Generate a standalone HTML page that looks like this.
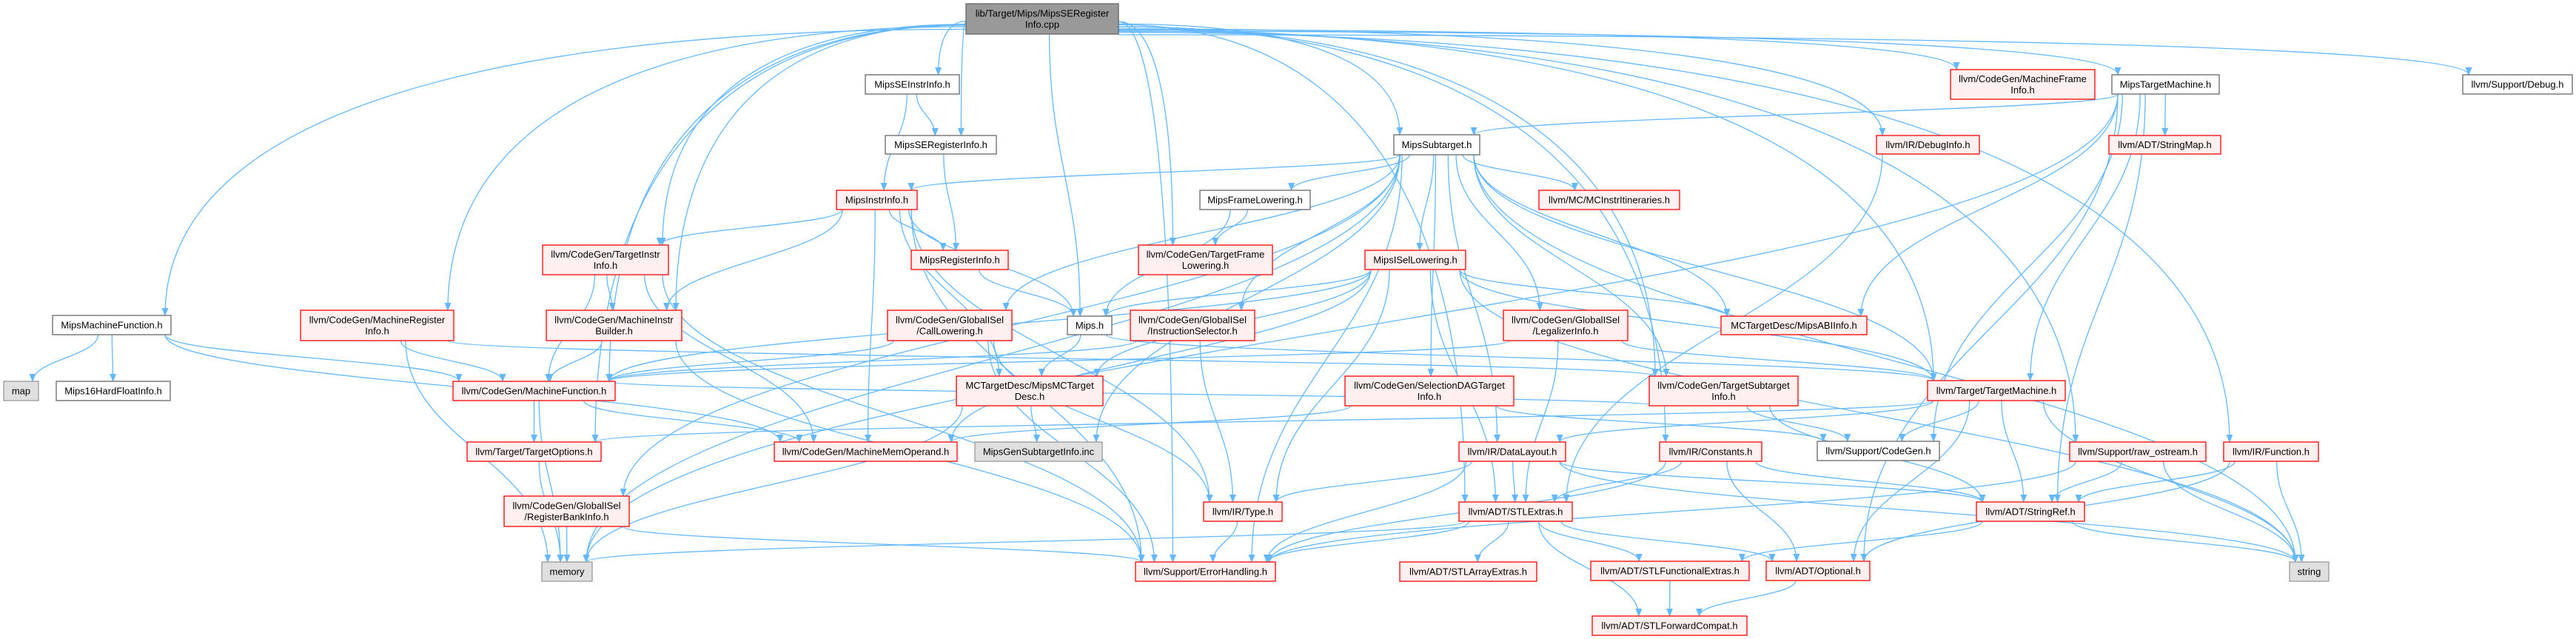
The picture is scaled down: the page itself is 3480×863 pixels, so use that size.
<!DOCTYPE html>
<html><head><meta charset="utf-8"><style>
html,body{margin:0;padding:0;background:#fff;}
svg{display:block;}
text{font-family:"Liberation Sans",Arial,sans-serif;font-size:13px;fill:#000;}
</style></head><body>
<svg id="g" width="3480" height="863" viewBox="0 0 3480 863" xmlns="http://www.w3.org/2000/svg">
<defs>
<marker id="a" markerWidth="11" markerHeight="9" refX="10" refY="4.5" orient="auto" markerUnits="userSpaceOnUse">
<path d="M0,0 L11,4.5 L0,9 z" fill="#63b8ff"/>
</marker>
</defs>
<g id="edges" fill="none" stroke="#63b8ff" stroke-width="1.3"></g>
<g id="nodes"></g>
</svg>
<script>
var N={
R:[["lib/Target/Mips/MipsSERegister","Info.cpp"],1305,5,1511,46,"root"],
SEII:[["MipsSEInstrInfo.h"],1169,101,1296,127,"w"],
SERI:[["MipsSERegisterInfo.h"],1196,183,1346,208,"w"],
II:[["MipsInstrInfo.h"],1130,257,1239,283,"r"],
FL:[["MipsFrameLowering.h"],1621,257,1770,283,"w"],
RI:[["MipsRegisterInfo.h"],1231,338,1362,364,"r"],
TFL:[["llvm/CodeGen/TargetFrame","Lowering.h"],1538,331,1719,371,"r"],
CL:[["llvm/CodeGen/GlobalISel","/CallLowering.h"],1199,419,1367,460,"r"],
MH:[["Mips.h"],1442,427,1502,452,"w"],
IS:[["llvm/CodeGen/GlobalISel","/InstructionSelector.h"],1527,419,1695,460,"r"],
MCTD:[["MCTargetDesc/MipsMCTarget","Desc.h"],1292,508,1490,548,"r"],
MMO:[["llvm/CodeGen/MachineMemOperand.h"],1046,597,1293,623,"r"],
GSI:[["MipsGenSubtargetInfo.inc"],1317,597,1489,623,"g"],
TY:[["llvm/IR/Type.h"],1626,678,1732,704,"r"],
EH:[["llvm/Support/ErrorHandling.h"],1534,759,1723,785,"r"],
MMF:[["MipsMachineFunction.h"],71,426,231,452,"w"],
MAP:[["map"],5,515,52,541,"g"],
M16:[["Mips16HardFloatInfo.h"],76,515,230,541,"w"],
MRI:[["llvm/CodeGen/MachineRegister","Info.h"],406,419,613,460,"r"],
TII:[["llvm/CodeGen/TargetInstr","Info.h"],733,331,903,371,"r"],
MIB:[["llvm/CodeGen/MachineInstr","Builder.h"],738,419,921,460,"r"],
MF:[["llvm/CodeGen/MachineFunction.h"],612,515,831,541,"r"],
TO:[["llvm/Target/TargetOptions.h"],631,597,812,623,"r"],
RBI:[["llvm/CodeGen/GlobalISel","/RegisterBankInfo.h"],681,670,850,711,"r"],
MEM:[["memory"],732,759,800,785,"g"],
ST:[["MipsSubtarget.h"],1883,182,1999,209,"w"],
MCII:[["llvm/MC/MCInstrItineraries.h"],2079,257,2269,283,"r"],
ISL:[["MipsISelLowering.h"],1844,338,1980,364,"r"],
LI:[["llvm/CodeGen/GlobalISel","/LegalizerInfo.h"],2031,419,2199,460,"r"],
ABI:[["MCTargetDesc/MipsABIInfo.h"],2325,427,2522,452,"r"],
SDT:[["llvm/CodeGen/SelectionDAGTarget","Info.h"],1817,508,2045,548,"r"],
TSI:[["llvm/CodeGen/TargetSubtarget","Info.h"],2228,508,2429,548,"r"],
TM:[["llvm/Target/TargetMachine.h"],2604,514,2790,541,"r"],
DL:[["llvm/IR/DataLayout.h"],1971,597,2115,623,"r"],
CO:[["llvm/IR/Constants.h"],2242,597,2380,623,"r"],
CG:[["llvm/Support/CodeGen.h"],2455,596,2620,622,"w"],
SE:[["llvm/ADT/STLExtras.h"],1971,678,2124,704,"r"],
SAE:[["llvm/ADT/STLArrayExtras.h"],1891,759,2076,785,"r"],
SFE:[["llvm/ADT/STLFunctionalExtras.h"],2149,758,2363,784,"r"],
OP:[["llvm/ADT/Optional.h"],2386,758,2526,784,"r"],
SFC:[["llvm/ADT/STLForwardCompat.h"],2151,832,2360,858,"r"],
DI:[["llvm/IR/DebugInfo.h"],2535,183,2674,208,"r"],
MFI:[["llvm/CodeGen/MachineFrame","Info.h"],2635,94,2830,134,"r"],
MTM:[["MipsTargetMachine.h"],2853,101,2998,127,"w"],
DBG:[["llvm/Support/Debug.h"],3327,101,3475,127,"w"],
SM:[["llvm/ADT/StringMap.h"],2849,183,3000,208,"r"],
RO:[["llvm/Support/raw_ostream.h"],2796,597,2980,623,"r"],
FN:[["llvm/IR/Function.h"],3004,597,3132,623,"r"],
SR:[["llvm/ADT/StringRef.h"],2670,678,2816,704,"r"],
STR:[["string"],3093,759,3146,785,"g"]
};
var E=[
"R SEII","R SERI","R MH","R TFL","R ST","R MFI","R MTM","R DBG","R DI","R TM","R RO","R FN","R EH","R MF","R MIB","R MRI","R MMF","R TII","R TO","R TSI","R CO","R SE",
"SEII II","SEII SERI","SERI RI",
"II TII","II RI","II MH","II MIB","II MMO","II MCTD","II TY","II EH",
"RI MH","MH MCTD","MH TM",
"FL TFL","FL MH",
"ST II","ST FL","ST MCII","ST ISL","ST LI","ST ABI","ST SDT","ST TSI","ST CL","ST IS","ST RBI","ST DL","ST EH","ST TM","ST STR","ST GSI","ST MEM",
"ISL MH","ISL ABI","ISL MF","ISL MMO","ISL MCTD","ISL TY","ISL TM","ISL STR","ISL SE",
"TII MIB","TII MF","TII EH","TII MMO",
"MIB MF","MIB EH",
"MRI MF","MRI MEM","MRI TSI",
"MMF MAP","MMF M16","MMF MF","MMF MMO",
"MF TO","MF MEM","MF MMO",
"TO MEM","RBI MEM","RBI EH",
"CL MF","CL TY","CL EH","IS TY","IS MF",
"MCTD GSI","MCTD MEM",
"LI MF","LI SE","LI TM",
"SDT MMO","SDT CG",
"TSI CG","TSI SR","TSI MF",
"TM TO","TM CG","TM SR","TM DL","TM STR","TM OP",
"DL TY","DL SE","DL SR","DL STR","DL EH",
"CO SE","CO SR","CO OP","CO EH",
"TY EH",
"SE SAE","SE SFE","SE OP","SE SFC","SE EH","SE MEM",
"SFE SFC","OP SFC",
"MTM SM","MTM ST","MTM ABI","MTM TM","MTM CG","MTM SR","MTM OP","MTM MEM",
"DI SE","RO SR","RO STR","RO EH","FN SR","FN STR","FN OP","SR STR","SR SFE"
];
var ns="http://www.w3.org/2000/svg",eg=document.getElementById("edges"),ng=document.getElementById("nodes");
function cl(v,a,b){return Math.max(a,Math.min(b,v));}
E.forEach(function(s){
 var p=s.split(" "),a=N[p[0]],b=N[p[1]];
 var acx=(a[1]+a[3])/2,bcx=(b[1]+b[3])/2;
 var sx=cl(acx+(bcx-acx)*0.15,a[1]+8,a[3]-8),sy=a[4];
 var tx=cl(bcx+(acx-bcx)*0.2,b[1]+8,b[3]-8),ty=b[2];
 if(p[0]=="R"){ if(bcx<a[1]){sx=a[1];sy=28+ (a[1]-bcx)*0.01;} else if(bcx>a[3]){sx=a[3];sy=28+(bcx-a[3])*0.01;} }
 var dy=ty-sy;
 var d;
 if(sx==a[1]||sx==a[3]){
   d="M"+sx+","+sy+" C"+(sx+(tx-sx)*0.6)+","+sy+" "+tx+","+(sy+dy*0.3)+" "+tx+","+ty;
 } else {
   d="M"+sx+","+sy+" C"+sx+","+(sy+dy*0.45)+" "+tx+","+(ty-dy*0.45)+" "+tx+","+ty;
 }
 var pa=document.createElementNS(ns,"path");pa.setAttribute("d",d);pa.setAttribute("marker-end","url(#a)");eg.appendChild(pa);
});
for(var k in N){
 var n=N[k],r=document.createElementNS(ns,"rect");
 r.setAttribute("x",n[1]);r.setAttribute("y",n[2]);r.setAttribute("width",n[3]-n[1]);r.setAttribute("height",n[4]-n[2]);
 var f={root:"#999999",w:"#ffffff",r:"#fff0f0",g:"#e0e0e0"}[n[5]],st={root:"#666666",w:"#666666",r:"#ff0000",g:"#999999"}[n[5]];
 r.setAttribute("fill",f);r.setAttribute("stroke",st);r.setAttribute("stroke-width","1.3");ng.appendChild(r);
 var cx=(n[1]+n[3])/2,cy=(n[2]+n[4])/2,L=n[0];
 L.forEach(function(t,i){
  var tx=document.createElementNS(ns,"text");tx.setAttribute("x",cx);
  tx.setAttribute("y",cy+4.5+(i-(L.length-1)/2)*15);tx.setAttribute("text-anchor","middle");
  tx.textContent=t;ng.appendChild(tx);
 });
}
</script>
</body></html>
